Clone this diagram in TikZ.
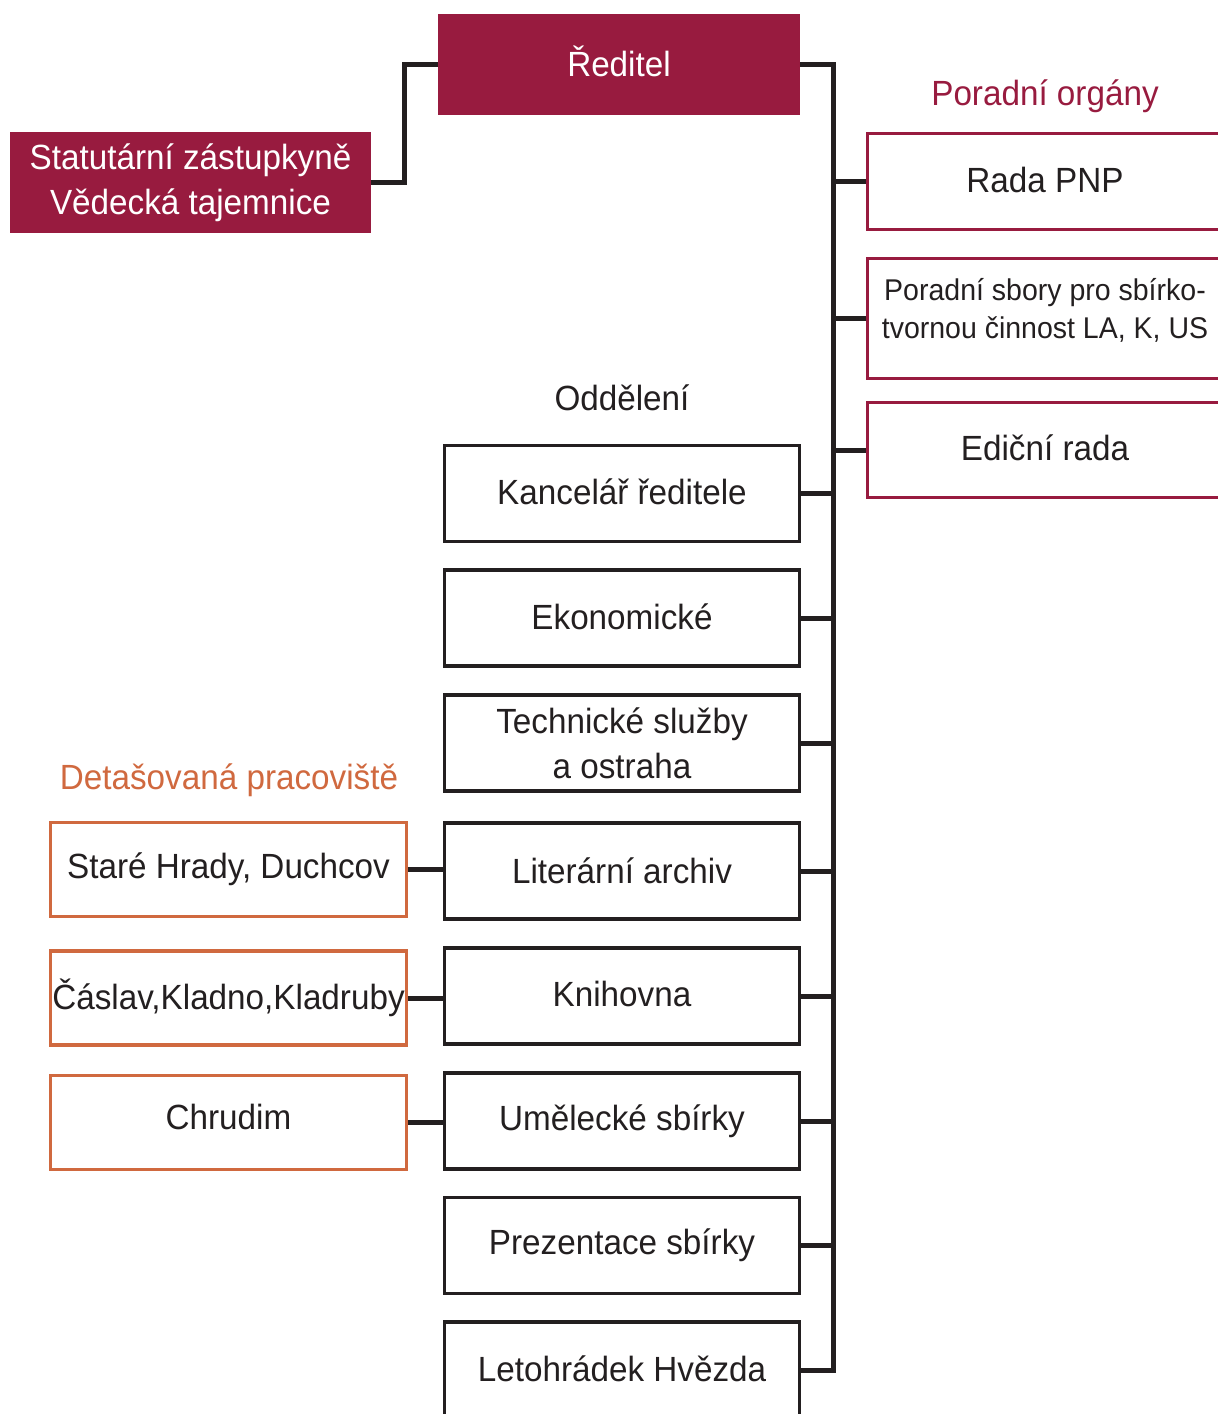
\documentclass[tikz,border=0pt]{standalone}
\usepackage{fontspec}
\setmainfont[FakeStretch=0.95]{Liberation Sans}
\usetikzlibrary{calc}
\definecolor{crimson}{HTML}{981B3F}
\definecolor{rust}{HTML}{D0693F}
\definecolor{ink}{HTML}{231F20}
\newcommand{\liftup}[2]{\raisebox{#1}{#2}}
\tikzset{
  conn/.style={draw=ink, line width=2.5pt},
  boxtxt/.style={font=\fontsize{17.5}{22.5}\selectfont, text=ink, align=center, inner sep=0pt},
  headbox/.style={boxtxt, fill=crimson, text=white, minimum width=181pt, minimum height=50.5pt},
  deptbox/.style={boxtxt, draw=ink, line width=1.8pt, minimum width=177.5pt, minimum height=48pt},
  advbox/.style={boxtxt, draw=crimson, line width=1.6pt, minimum width=177.5pt, minimum height=48pt},
  detbox/.style={boxtxt, draw=rust, line width=1.6pt, minimum width=178pt, minimum height=47pt},
  heading/.style={font=\fontsize{17.5}{22}\selectfont, inner sep=0pt}
}
\begin{document}
\begin{tikzpicture}[x=0.5pt, y=-0.5pt]
\useasboundingbox (0,0) rectangle (1218,1414);
% top
\node[headbox] (reditel) at (619,64.5) {\liftup{3pt}{Ředitel}};
\node[headbox, minimum width=180.5pt] (stat) at (190.5,182.5) {Statutární zástupkyně\\Vědecká tajemnice};
% advisory bodies
\node[heading, text=crimson] (porhead) at (1045,96) {Poradní orgány};
\node[advbox] (rada) at (1045,181.5) {\liftup{2pt}{Rada PNP}};
\node[advbox, minimum height=60pt, font=\fontsize{15}{19}\selectfont] (sbory) at (1045,318.5) {Poradní sbory pro sbírko-\\tvornou činnost LA, K, US\\[-9pt]\mbox{}};
\node[advbox, minimum height=47.5pt] (edic) at (1045,450) {\liftup{2.5pt}{Ediční rada}};
% departments
\node[heading, text=ink] (oddhead) at (622,398) {Oddělení};
\node[deptbox] (kanc) at (622,493.5) {\liftup{1.5pt}{Kancelář ředitele}};
\node[deptbox] (ekon) at (622,618) {\liftup{1pt}{Ekonomické}};
\node[deptbox] (tech) at (622,743) {Technické služby\\a ostraha};
\node[deptbox] (lit) at (622,871) {\liftup{0.5pt}{Literární archiv}};
\node[deptbox] (knih) at (622,996) {\liftup{2pt}{Knihovna}};
\node[deptbox] (umel) at (622,1121) {\liftup{-1pt}{Umělecké sbírky}};
\node[deptbox] (prez) at (622,1245.5) {\liftup{-1.5pt}{Prezentace sbírky}};
\node[deptbox] (leto) at (622,1370) {\liftup{1.5pt}{Letohrádek Hvězda}};
% detached workplaces
\node[heading, text=rust] (dethead) at (229,780) {Detašovaná pracoviště};
\node[detbox] (stare) at (228.5,869.5) {\liftup{-2pt}{Staré Hrady, Duchcov}};
\node[detbox] (caslav) at (228.5,998) {\liftup{2.5pt}{Čáslav,Kladno,Kladruby}};
\node[detbox] (chrud) at (228.5,1122.5) {\liftup{5.5pt}{Chrudim}};
% connectors
\coordinate (trunk) at (833,64.5);
\draw[conn] (stat.east) -| ($(stat.east)!0.5!(reditel.west)$) |- (reditel.west);
\draw[conn] (reditel.east) -| (leto.east -| trunk) -- (leto.east);
\foreach \n in {kanc,ekon,tech,lit,knih,umel,prez}
  \draw[conn] (\n.east) -- (\n.east -| trunk);
\foreach \n in {rada,sbory,edic}
  \draw[conn] (\n.west) -- (\n.west -| trunk);
\draw[conn] (stare.east) -- (stare.east -| lit.west);
\draw[conn] (caslav.east) -- (caslav.east -| knih.west);
\draw[conn] (chrud.east) -- (chrud.east -| umel.west);
\end{tikzpicture}
\end{document}
